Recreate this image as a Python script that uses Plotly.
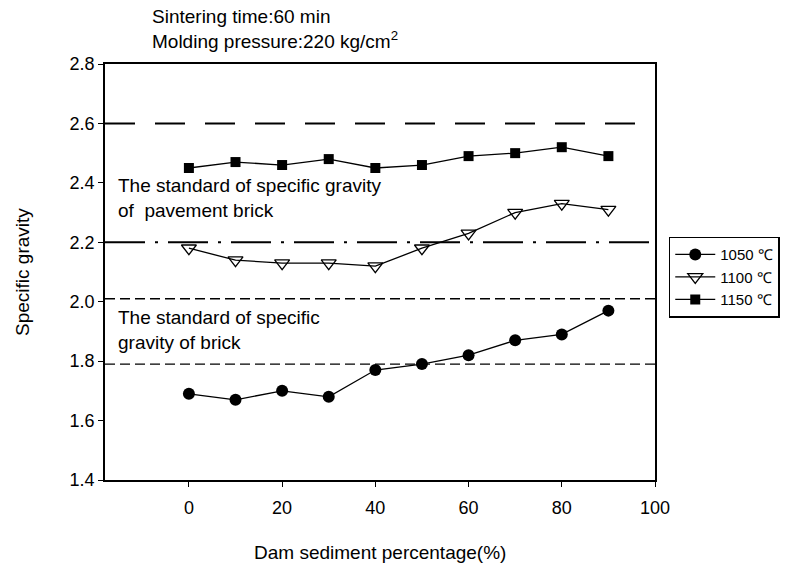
import plotly.graph_objects as go

x = [0, 10, 20, 30, 40, 50, 60, 70, 80, 90]
s1050 = [1.69, 1.67, 1.70, 1.68, 1.77, 1.79, 1.82, 1.87, 1.89, 1.97]
s1100 = [2.18, 2.14, 2.13, 2.13, 2.12, 2.18, 2.23, 2.30, 2.33, 2.31]
s1150 = [2.45, 2.47, 2.46, 2.48, 2.45, 2.46, 2.49, 2.50, 2.52, 2.49]
names = ["1050 ℃", "1100 ℃", "1150 ℃"]
ref_pavement = 2.2
ref_upper = 2.6
ref_brick = [2.01, 1.79]
x_ticks = [0, 20, 40, 60, 80, 100]
y_ticks = [1.4, 1.6, 1.8, 2.0, 2.2, 2.4, 2.6, 2.8]

FONT = "Liberation Sans, Arial, sans-serif"
fig = go.Figure()

xr = [-18, 100]
fig.add_trace(go.Scatter(x=xr, y=[ref_upper]*2, mode="lines", showlegend=False,
                         line=dict(color="black", width=2, dash="30px,20px")))
fig.add_trace(go.Scatter(x=xr, y=[ref_pavement]*2, mode="lines", showlegend=False,
                         line=dict(color="black", width=2, dash="40px,10px,3px,10px")))
for v in ref_brick:
    fig.add_trace(go.Scatter(x=xr, y=[v]*2, mode="lines", showlegend=False,
                             line=dict(color="black", width=1.3, dash="10px,5px")))

fig.add_trace(go.Scatter(x=x, y=s1050, name=names[0], mode="lines+markers",
                         line=dict(color="black", width=1.3),
                         marker=dict(symbol="circle", size=12, color="black")))
fig.add_trace(go.Scatter(x=x, y=s1100, name=names[1], mode="lines+markers",
                         line=dict(color="black", width=1.3),
                         marker=dict(symbol="triangle-down-open", size=13, color="black",
                                     line=dict(width=1.3))))
fig.add_trace(go.Scatter(x=x, y=s1150, name=names[2], mode="lines+markers",
                         line=dict(color="black", width=1.3),
                         marker=dict(symbol="square", size=10, color="black")))

fig.update_layout(
    width=810, height=564,
    margin=dict(l=105, r=155, t=64, b=84),
    plot_bgcolor="white", paper_bgcolor="white",
    font=dict(family=FONT, size=18, color="black"),
    showlegend=True,
    legend=dict(x=1.025, y=0.585, xanchor="left", yanchor="top",
                bordercolor="black", borderwidth=1.5, bgcolor="white",
                font=dict(size=15), tracegroupgap=0, itemwidth=40),
    xaxis=dict(range=xr, tickvals=x_ticks, showgrid=False, zeroline=False,
               showline=True, linecolor="black", linewidth=1.5, mirror=True,
               ticks="outside", ticklen=5, tickcolor="black", ticklabelstandoff=6,
               automargin=False),
    yaxis=dict(range=[1.4, 2.8], tickvals=y_ticks, tickformat=".1f", showgrid=False,
               zeroline=False, showline=True, linecolor="black", linewidth=1.5, mirror=True,
               ticks="outside", ticklen=5, tickcolor="black", automargin=False),
    annotations=[
        dict(text="Dam sediment percentage(%)", xref="paper", yref="paper",
             x=0.5, y=-0.175, xanchor="center", yanchor="middle",
             showarrow=False, font=dict(size=19)),
        dict(text="Specific gravity", xref="paper", yref="paper",
             x=-0.151, y=0.5, xanchor="center", yanchor="middle", textangle=-90,
             showarrow=False, font=dict(size=19)),
        dict(text="Sintering time:60 min<br>Molding pressure:220 kg/cm<sup>2</sup>",
             xref="paper", yref="paper", x=0.082, y=1.0, xanchor="left", yanchor="bottom",
             yshift=10, align="left", showarrow=False, font=dict(size=19)),
        dict(text="The standard of specific gravity<br>of  pavement brick",
             xref="paper", yref="y", x=0.02, y=2.265, xanchor="left", yanchor="bottom",
             align="left", showarrow=False, font=dict(size=19)),
        dict(text="The standard of specific<br>gravity of brick",
             xref="paper", yref="y", x=0.02, y=1.82, xanchor="left", yanchor="bottom",
             align="left", showarrow=False, font=dict(size=19)),
    ],
)

fig.write_html("out.html")
